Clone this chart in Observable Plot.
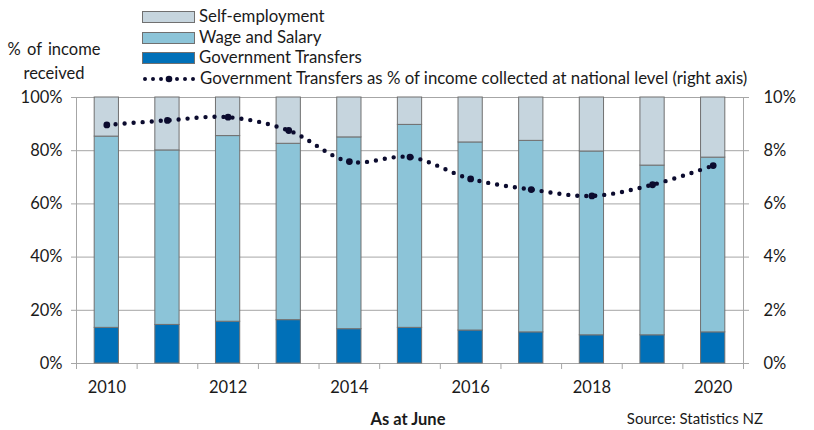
<!DOCTYPE html>
<html>
<head>
<meta charset="utf-8">
<script src="https://cdn.jsdelivr.net/npm/d3@7"></script>
<script src="https://cdn.jsdelivr.net/npm/@observablehq/plot@0.6"></script>
<style>
  html, body { margin: 0; padding: 0; background: #fff; }
  #wrap { position: relative; width: 814px; height: 430px; font-family: Lato, "Open Sans", sans-serif; color: #1a1a1a; }
  .abs { position: absolute; white-space: nowrap; font-size: 16px; line-height: 1; }
  .leg { position: absolute; left: 142px; display: flex; align-items: center; font-size: 16.8px; white-space: nowrap; line-height: 1; height: 17px; }
  .sw { width: 53px; height: 12px; border: 1px solid #707070; margin-right: 4px; box-sizing: border-box; }
</style>
</head>
<body>
<div id="wrap"></div>
<script>
// ---- data ----
const years = [2010, 2011, 2012, 2013, 2014, 2015, 2016, 2017, 2018, 2019, 2020];
const govTransfers   = [13.4, 14.5, 15.7, 16.3, 12.9, 13.4, 12.4, 11.7, 10.6, 10.6, 11.7];
const wageSalary     = [71.9, 65.6, 69.8, 66.3, 72.1, 76.3, 70.7, 72.0, 69.1, 63.8, 65.7];
const selfEmployment = [14.7, 19.9, 14.5, 17.4, 15.0, 10.3, 16.9, 16.3, 20.3, 25.6, 22.6];
const govNational    = [8.97, 9.14, 9.26, 8.76, 7.59, 7.76, 6.94, 6.54, 6.30, 6.72, 7.44]; // right axis, %
const seriesNames = ["Government Transfers", "Wage and Salary", "Self-employment"];
const seriesColors = ["#0070b8", "#8cc4d8", "#c6d5de"];
const leftTicks = [0, 20, 40, 60, 80, 100];
const rightTicks = [0, 2, 4, 6, 8, 10];
const labelYears = [2010, 2012, 2014, 2016, 2018, 2020];

// ---- tables ----
const seriesValues = [govTransfers, wageSalary, selfEmployment];
const bars = [];
years.forEach((yr, i) => {
  seriesNames.forEach((s, k) => bars.push({year: yr, series: s, value: seriesValues[k][i]}));
});
const line = years.map((yr, i) => ({year: yr, v: govNational[i]}));
const bw = 0.2; // half bar width in year units
const boundaries = d3.range(years[0] - 0.5, years[years.length - 1] + 0.51, 1);

const grid = "#a6a6a6";
const chart = Plot.plot({
  width: 814,
  height: 430,
  marginTop: 97,
  marginBottom: 67,
  marginLeft: 76,
  marginRight: 71,
  style: {fontFamily: "Lato, 'Open Sans', sans-serif", fontSize: "16.5px", color: "#1a1a1a", background: "transparent"},
  x: {type: "linear", domain: [boundaries[0], boundaries[boundaries.length - 1]], axis: null},
  y: {domain: [0, 100], axis: null},
  color: {domain: seriesNames, range: seriesColors},
  marks: [
    Plot.ruleY(leftTicks, {stroke: grid, strokeWidth: 1}),
    Plot.ruleX([boundaries[0], boundaries[boundaries.length - 1]], {stroke: grid, strokeWidth: 1}),
    Plot.axisY({anchor: "left", ticks: leftTicks, tickFormat: d => d + "%", tickSize: 5, tickPadding: 9, stroke: grid, fontSize: 16.5, label: null}),
    Plot.axisY({anchor: "right", ticks: rightTicks.map(d => d * 10), tickFormat: d => (d / 10) + "%", tickSize: 5, tickPadding: 15, stroke: grid, fontSize: 16.5, label: null}),
    Plot.rectY(bars, Plot.stackY({order: seriesNames}, {
      x1: d => d.year - bw, x2: d => d.year + bw, y: "value", fill: "series",
      stroke: "#707070", strokeWidth: 1
    })),
    Plot.axisX({ticks: boundaries, tickFormat: () => "", tickSize: 6, stroke: grid, label: null}),
    Plot.axisX({ticks: labelYears, tickFormat: d => String(d), tickSize: 0, tickPadding: 18, fontSize: 16.5, label: null}),
    Plot.line(line, {x: "year", y: d => d.v * 10, curve: "catmull-rom", stroke: "#0b0b2e", strokeWidth: 4.4, strokeDasharray: "0 9", strokeLinecap: "round"}),
    Plot.dot(line, {x: "year", y: d => d.v * 10, r: 3.4, fill: "#0b0b2e", stroke: "none"})
  ]
});

const wrap = document.getElementById("wrap");
chart.style.position = "absolute";
chart.style.left = "0";
chart.style.top = "0";
wrap.appendChild(chart);

function addText(txt, css) {
  const d = document.createElement("div");
  d.className = "abs";
  d.textContent = txt;
  Object.assign(d.style, css);
  wrap.appendChild(d);
  return d;
}
addText("% of income", {left: "4px", top: "41px", width: "100px", textAlign: "center", fontSize: "16.5px", wordSpacing: "2px"});
addText("received", {left: "4px", top: "65px", width: "100px", textAlign: "center", fontSize: "16.5px"});
addText("As at June", {left: "358px", top: "411px", width: "100px", textAlign: "center", fontWeight: "bold", fontSize: "16.5px"});
addText("Source: Statistics NZ", {right: "51px", top: "411px", fontSize: "15px"});

// legend (top to bottom: Self-employment, Wage and Salary, Government Transfers, line)
const legRows = [
  {name: "Self-employment", color: seriesColors[2], top: 8},
  {name: "Wage and Salary", color: seriesColors[1], top: 29},
  {name: "Government Transfers", color: seriesColors[0], top: 49}
];
legRows.forEach(r => {
  const row = document.createElement("div");
  row.className = "leg";
  row.style.top = r.top + "px";
  const sw = document.createElement("div");
  sw.className = "sw";
  sw.style.background = r.color;
  const t = document.createElement("span");
  t.textContent = r.name;
  row.appendChild(sw); row.appendChild(t);
  wrap.appendChild(row);
});
const lrow = document.createElement("div");
lrow.className = "leg";
lrow.style.top = "70px";
lrow.innerHTML = '<svg width="57" height="14" style="margin-right:1px"><line x1="3" y1="7" x2="53" y2="7" stroke="#0b0b2e" stroke-width="4" stroke-dasharray="0 8" stroke-linecap="round"/><circle cx="27" cy="7" r="3.3" fill="#0b0b2e"/></svg><span>Government Transfers as % of income collected at national level (right axis)</span>';
wrap.appendChild(lrow);
</script>
</body>
</html>
